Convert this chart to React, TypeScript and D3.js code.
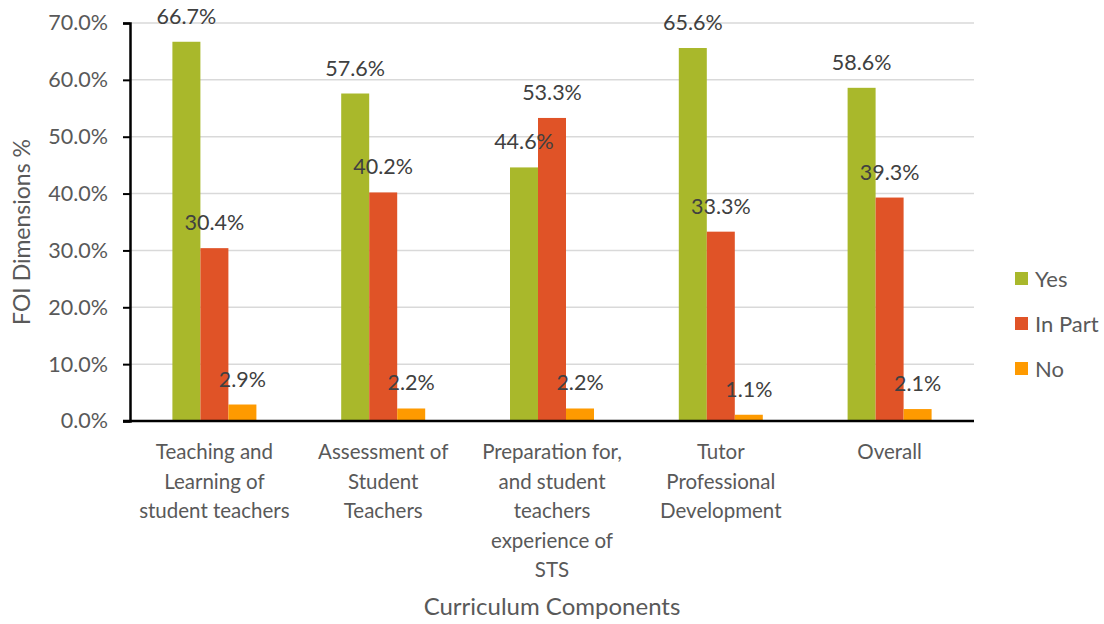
import React, { useEffect, useRef } from 'react';
import * as d3 from 'd3';

const categories = [
  'Teaching and Learning of student teachers',
  'Assessment of Student Teachers',
  'Preparation for, and student teachers experience of STS',
  'Tutor Professional Development',
  'Overall',
];
// wrapped the way the source chart breaks them
const categoryLines = [
  ['Teaching and', 'Learning of', 'student teachers'],
  ['Assessment of', 'Student', 'Teachers'],
  ['Preparation for,', 'and student', 'teachers', 'experience of', 'STS'],
  ['Tutor', 'Professional', 'Development'],
  ['Overall'],
];
const seriesNames = ['Yes', 'In Part', 'No'];
const yesValues = [66.7, 57.6, 44.6, 65.6, 58.6];
const inPartValues = [30.4, 40.2, 53.3, 33.3, 39.3];
const noValues = [2.9, 2.2, 2.2, 1.1, 2.1];
const yTicks = [0, 10, 20, 30, 40, 50, 60, 70];

const colors = ['#a9b82b', '#e05327', '#fe9a00'];
const font = 'Lato, "Open Sans", sans-serif';

export default function App() {
  const svgRef = useRef<SVGSVGElement>(null);

  useEffect(() => {
    if (!svgRef.current) return;
    const width = 1104;
    const height = 624;
    const left = 130;
    const right = 974;
    const top = 23;
    const bottom = 421;

    const svg = d3.select(svgRef.current);
    svg.selectAll('*').remove();
    svg.attr('width', width).attr('height', height);

    const series = [yesValues, inPartValues, noValues];

    const x = d3.scaleBand<string>().domain(categories).range([left, right]);
    const barW = 28;
    const inner = d3.scaleBand<string>()
      .domain(seriesNames)
      .range([0, barW * 3]);
    const y = d3.scaleLinear().domain([0, 70]).range([bottom, top]);
    const barX = (i: number, si: number) =>
      x(categories[i])! + x.bandwidth() / 2 - barW * 1.5 + inner(seriesNames[si])!;

    // gridlines
    svg.append('g')
      .selectAll('line')
      .data(yTicks.filter(t => t > 0))
      .enter()
      .append('line')
      .attr('x1', left)
      .attr('x2', right)
      .attr('y1', d => y(d))
      .attr('y2', d => y(d))
      .attr('stroke', '#d9d9d9')
      .attr('stroke-width', 1.5);

    // bars
    series.forEach((vals, si) => {
      svg.append('g')
        .selectAll('rect')
        .data(vals)
        .enter()
        .append('rect')
        .attr('x', (d, i) => barX(i, si))
        .attr('y', d => y(d))
        .attr('width', barW)
        .attr('height', d => bottom - y(d))
        .attr('fill', colors[si]);
    });

    // data labels
    series.forEach((vals, si) => {
      svg.append('g')
        .selectAll('text')
        .data(vals)
        .enter()
        .append('text')
        .attr('x', (d, i) => barX(i, si) + barW / 2)
        .attr('y', d => y(d) - 18)
        .attr('text-anchor', 'middle')
        .attr('fill', '#404040')
        .style('font-family', font)
        .style('font-size', '21.5px')
        .text(d => `${d.toFixed(1)}%`);
    });

    // y axis
    const yAxis = svg.append('g')
      .attr('transform', `translate(${left},0)`)
      .call(d3.axisLeft(y).tickValues(yTicks).tickSize(7).tickFormat(d => `${(+d).toFixed(1)}%`));
    yAxis.select('.domain').attr('stroke', '#000').attr('stroke-width', 2.5);
    yAxis.selectAll('.tick line').attr('stroke', '#000').attr('stroke-width', 2);
    yAxis.selectAll('.tick text')
      .attr('x', -22)
      .attr('fill', '#595959')
      .style('font-family', font)
      .style('font-size', '21.5px');

    // x axis line
    svg.append('line')
      .attr('x1', left - 7)
      .attr('x2', right)
      .attr('y1', bottom)
      .attr('y2', bottom)
      .attr('stroke', '#000')
      .attr('stroke-width', 2.5);

    // category labels
    const catG = svg.append('g');
    categoryLines.forEach((lines, i) => {
      const t = catG.append('text')
        .attr('text-anchor', 'middle')
        .attr('fill', '#595959')
        .style('font-family', font)
        .style('font-size', '20.5px');
      lines.forEach((ln, j) => {
        t.append('tspan')
          .attr('x', x(categories[i])! + x.bandwidth() / 2)
          .attr('y', 459 + j * 29.6)
          .text(ln);
      });
    });

    // axis titles
    svg.append('text')
      .attr('x', (left + right) / 2)
      .attr('y', 615)
      .attr('text-anchor', 'middle')
      .attr('fill', '#595959')
      .style('font-family', font)
      .style('font-size', '24px')
      .text('Curriculum Components');

    svg.append('text')
      .attr('transform', `translate(30,${(top + bottom) / 2 + 10}) rotate(-90)`)
      .attr('text-anchor', 'middle')
      .attr('fill', '#595959')
      .style('font-family', font)
      .style('font-size', '23px')
      .text('FOI Dimensions %');

    // legend
    const legend = svg.append('g')
      .selectAll('g')
      .data(seriesNames)
      .enter()
      .append('g')
      .attr('transform', (d, i) => `translate(1015,${279 + i * 45})`);
    legend.append('rect')
      .attr('x', 0)
      .attr('y', -7)
      .attr('width', 13)
      .attr('height', 13)
      .attr('fill', (d, i) => colors[i]);
    legend.append('text')
      .attr('x', 20)
      .attr('y', 7.5)
      .attr('fill', '#595959')
      .style('font-family', font)
      .style('font-size', '22px')
      .text(d => d);
  }, []);

  return (
    <div style={{ position: 'absolute', left: 0, top: 0 }}>
      <svg ref={svgRef}></svg>
    </div>
  );
}
